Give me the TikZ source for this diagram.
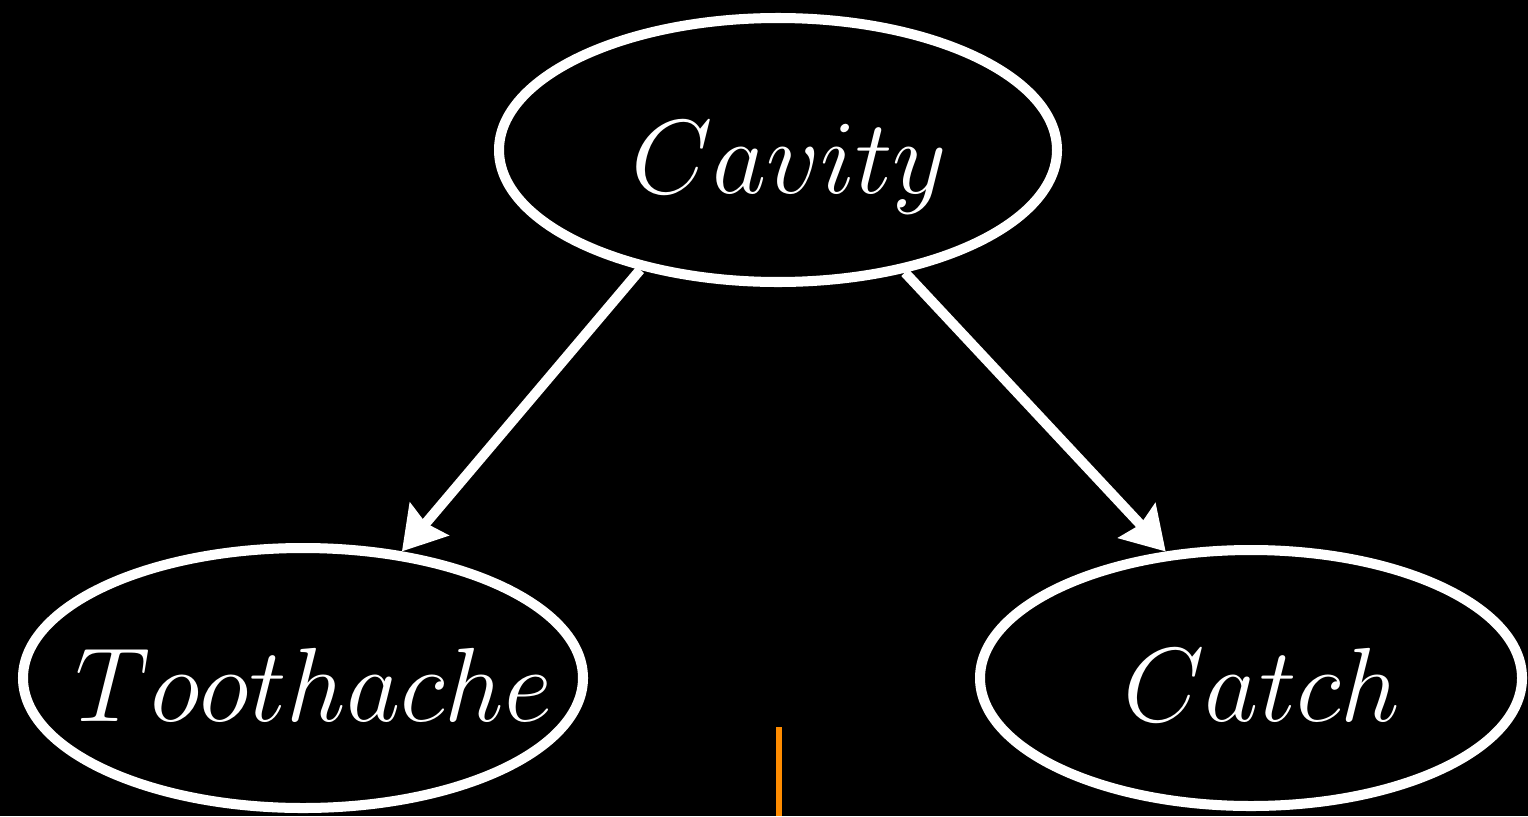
\documentclass[tikz,border=0pt]{standalone}
\usepackage{fix-cm}
\usetikzlibrary{shapes.geometric,arrows.meta}
\definecolor{markorange}{RGB}{255,140,0}
\newcommand{\varname}[1]{\makebox[0pt]{\hspace{0.22cm}$#1$}}

\begin{document}
\begin{tikzpicture}
        \fill[black] (0,0) rectangle (15.28,8.16);
        \useasboundingbox (0,0) rectangle (15.28,8.16);
        % Define the variables
        \foreach \x/\y/\w/\h/\n/\t in {7.78/6.66/5.58/2.64/cavity/Cavity,
                                       3.03/1.38/5.60/2.60/toothache/Toothache,
                                       12.51/1.38/5.42/2.56/catch/Catch} {
            \node[ellipse, draw=white, line width=2.85pt, fill=black, text=white, minimum width=\w cm, minimum height=\h cm, inner sep=0pt, text height=1.06cm, text depth=0.2cm, font=\fontsize{30}{36}\selectfont] (\n) at (\x,\y) {\varname{\t}};
        }
        % Draw the dependency arrows
        \foreach \a/\b in {cavity.221/toothache.52,   % Cavity -> Toothache
                           cavity.316/catch.124}      % Cavity -> Catch
        {   \draw[white, line width=2.85pt, -{Stealth[length=4.2mm, width=5mm, inset=0.5mm]}] (\a) -- (\b);}
        % Orange marker at the bottom
        \draw[markorange, line width=1.7pt] (7.79,0) -- (7.79,0.89);
    \end{tikzpicture}
\end{document}
